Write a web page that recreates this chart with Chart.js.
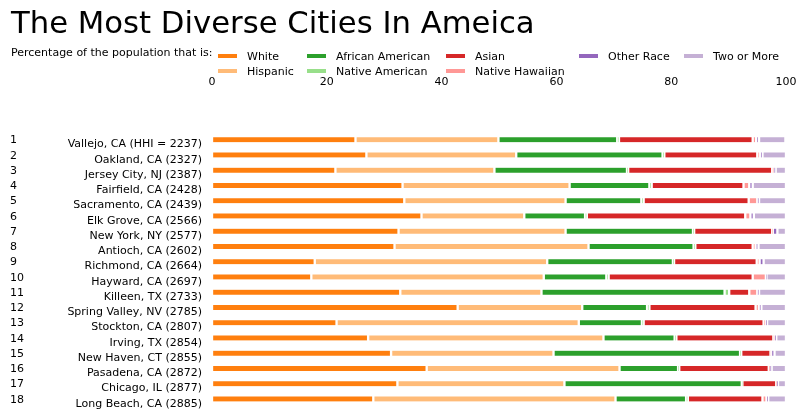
<!DOCTYPE html>
<html>
<head>
<meta charset="utf-8">
<script src="https://cdn.jsdelivr.net/npm/chart.js@4/dist/chart.umd.min.js"></script>
<style>
    body { margin: 0; background: #fff; }
    #wrap { position: relative; width: 806px; height: 410px; font-family: 'DejaVu Sans', sans-serif; color: #000; }
    #chart { position: absolute; left: 0; top: 0; }
    .txt { position: absolute; white-space: nowrap; }
    .title { left: 11px; top: 7.6px; font-size: 30.7px; line-height: 30px; }
    .sub { left: 11px; top: 46px; font-size: 11px; line-height: 13px; }
    .sw { position: absolute; width: 19px; height: 4px; }
    .lg { position: absolute; font-size: 11px; line-height: 13px; white-space: nowrap; }
</style>
</head>
<body>
<div id="wrap">
    <canvas id="chart" width="806" height="410"></canvas>
    <div class="txt title">The Most Diverse Cities In Ameica</div>
    <div class="txt sub">Percentage of the population that is:</div>
    <div id="legend"></div>
</div>
<script>
// Data (percent of population)
const cities = [
    'Vallejo, CA (HHI = 2237)', 'Oakland, CA (2327)', 'Jersey City, NJ (2387)', 'Fairfield, CA (2428)',
    'Sacramento, CA (2439)', 'Elk Grove, CA (2566)', 'New York, NY (2577)', 'Antioch, CA (2602)',
    'Richmond, CA (2664)', 'Hayward, CA (2697)', 'Killeen, TX (2733)', 'Spring Valley, NV (2785)',
    'Stockton, CA (2807)', 'Irving, TX (2854)', 'New Haven, CT (2855)', 'Pasadena, CA (2872)',
    'Chicago, IL (2877)', 'Long Beach, CA (2885)'
];
const ranks = ['1', '2', '3', '4', '5', '6', '7', '8', '9', '10', '11', '12', '13', '14', '15', '16', '17', '18'];
const xTicks = [0, 20, 40, 60, 80, 100];

const white     = [25.0, 26.9, 21.5, 33.2, 33.5, 36.5, 32.5, 31.8, 17.9, 17.3, 32.8, 42.8, 21.7, 27.2, 31.2, 37.4, 32.3, 28.1];
const hispanic  = [24.9, 26.1, 27.7, 29.1, 28.1, 17.9, 29.1, 33.8, 40.5, 40.5, 24.6, 21.7, 42.2, 41.0, 28.3, 33.6, 29.1, 42.2];
const african   = [20.7, 25.5, 23.1, 13.9, 13.2, 10.6, 22.2, 18.3, 21.9, 10.9, 31.9, 11.3, 11.0, 12.4, 32.5, 10.2, 30.9, 12.3];
const nativeAm  = [0.3, 0.3, 0.2, 0.4, 0.4, 0.3, 0.2, 0.3, 0.2, 0.4, 0.8, 0.4, 0.3, 0.3, 0.2, 0.2, 0.1, 0.3];
const asian     = [23.3, 16.2, 25.1, 16.0, 18.3, 27.6, 13.6, 10.0, 14.4, 25.1, 3.5, 18.5, 20.9, 16.9, 5.1, 15.6, 5.9, 13.0];
const nativeHaw = [0.6, 0.5, 0.3, 1.0, 1.5, 0.9, 0.1, 0.5, 0.5, 2.3, 1.4, 0.6, 0.4, 0.2, 0.1, 0.2, 0.1, 0.7];
const otherRace = [0.5, 0.4, 0.3, 0.6, 0.3, 0.6, 0.8, 0.5, 0.7, 0.1, 0.3, 0.4, 0.2, 0.3, 0.6, 0.3, 0.2, 0.3];
const twoOrMore = [4.6, 4.1, 1.8, 5.8, 4.7, 5.6, 1.5, 4.8, 3.9, 3.4, 4.7, 4.3, 3.3, 1.7, 2.0, 2.5, 1.4, 3.1];

const groups = ['White', 'Hispanic', 'African American', 'Native American', 'Asian', 'Native Hawaiian', 'Other Race', 'Two or More'];
const groupValues = [white, hispanic, african, nativeAm, asian, nativeHaw, otherRace, twoOrMore];
const groupColors = ['#ff7f0e', '#ffbb78', '#2ca02c', '#98df8a', '#d62728', '#ff9896', '#9467bd', '#c5b0d5'];

Chart.defaults.font.family = "'DejaVu Sans', sans-serif";
Chart.defaults.font.size = 11;
Chart.defaults.color = '#000';

const datasets = groups.map((name, i) => ({
    label: name,
    data: groupValues[i],
    backgroundColor: groupColors[i],
    borderColor: '#fff',
    borderWidth: { left: 1.5, right: 1.5, top: 0, bottom: 0 },
    borderSkipped: false,
    barThickness: 5,
    stack: 'all'
}));

new Chart(document.getElementById('chart'), {
    type: 'bar',
    data: { labels: cities, datasets: datasets },
    options: {
        indexAxis: 'y',
        responsive: false,
        animation: false,
        devicePixelRatio: 1,
        layout: { padding: { left: 10, right: 20, top: 0, bottom: 3.5 } },
        plugins: { legend: { display: false }, tooltip: { enabled: false } },
        scales: {
            x: {
                type: 'linear', position: 'top', stacked: true, min: 0, max: 100,
                grid: { display: false, drawTicks: false },
                border: { display: false },
                afterBuildTicks: (axis) => { axis.ticks = xTicks.map(v => ({ value: v })); },
                ticks: { padding: 43.4, maxRotation: 0 },
                afterFit: (axis) => { axis.height = 132; axis.paddingLeft = 0; axis.paddingRight = 0; }
            },
            y: {
                type: 'category', position: 'left', stacked: true, weight: 0,
                grid: { display: false, drawTicks: false },
                border: { display: false },
                ticks: { padding: 10, labelOffset: 5, autoSkip: false },
                afterFit: (axis) => { axis.width = 182; axis.paddingTop = 0; axis.paddingBottom = 0; }
            },
            rank: {
                type: 'category', position: 'left', labels: ranks, offset: true, weight: 1,
                grid: { display: false, drawTicks: false },
                border: { display: false },
                ticks: { crossAlign: 'far', labelOffset: 1, autoSkip: false },
                afterFit: (axis) => { axis.width = 20; axis.paddingTop = 0; axis.paddingBottom = 0; }
            }
        }
    }
});

// matplotlib style legend: 5 columns, filled column by column
const legendCols = [218, 307, 446, 579, 684];
const legendRows = [56, 71];
const legendCol = [0, 0, 1, 1, 2, 2, 3, 4];
const legendRow = [0, 1, 0, 1, 0, 1, 0, 0];
const legend = document.getElementById('legend');
groups.forEach((name, i) => {
    const x = legendCols[legendCol[i]];
    const y = legendRows[legendRow[i]];
    const sw = document.createElement('div');
    sw.className = 'sw';
    sw.style.left = x + 'px';
    sw.style.top = (y - 2) + 'px';
    sw.style.background = groupColors[i];
    legend.appendChild(sw);
    const lb = document.createElement('div');
    lb.className = 'lg';
    lb.textContent = name;
    lb.style.left = (x + 29) + 'px';
    lb.style.top = (y - 6.3) + 'px';
    legend.appendChild(lb);
});
</script>
</body>
</html>
